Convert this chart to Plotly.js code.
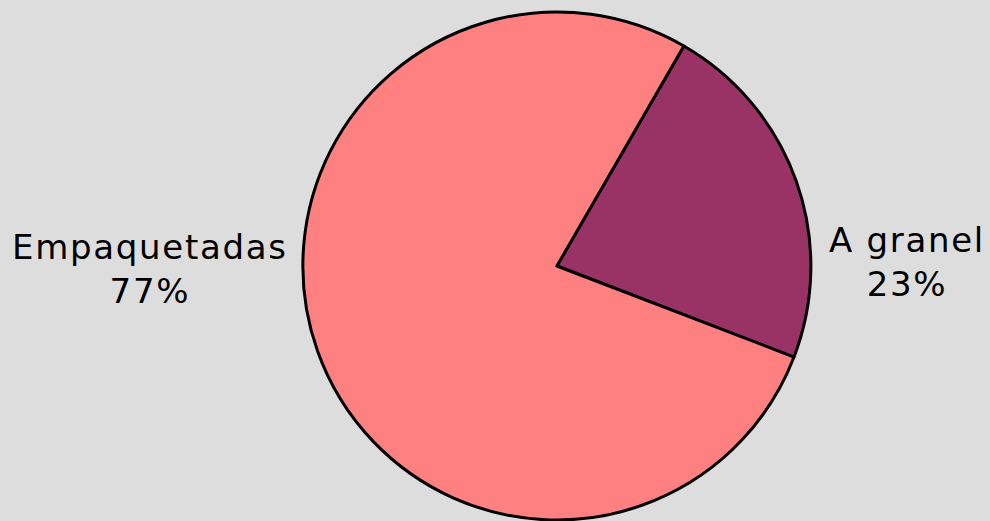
<!DOCTYPE html>
<html>
<head>
<meta charset="utf-8">
<script src="https://cdn.plot.ly/plotly-3.0.1.min.js"></script>
<style>
  html, body { margin: 0; padding: 0; background: #dddddd; }
  #chart { width: 990px; height: 521px; }
  .annotation-text { letter-spacing: 1.7px; }
</style>
</head>
<body>
<div id="chart"></div>
<script>
// slice names and shares
var labels = ["A granel", "Empaquetadas"];
var values = [22.5, 77.5];
var pctText = ["23%", "77%"];
var colors = ["#993366", "#ff8080"];

var trace = {
  type: "pie",
  labels: labels,
  values: values,
  sort: false,
  direction: "clockwise",
  rotation: 30,
  marker: { colors: colors, line: { color: "#000000", width: 3 } },
  textinfo: "none",
  hoverinfo: "label+percent",
  domain: { x: [0.125, 1], y: [0, 1] }
};

// labels sit beside the pie, left and right
var labelPos = [[0.916, 0.508], [0.152, 0.494]];
var annotations = labels.map(function (lab, i) {
  return {
    xref: "paper", yref: "paper",
    x: labelPos[i][0], y: labelPos[i][1],
    xanchor: "center", yanchor: "middle",
    text: lab + "<br>" + pctText[i],
    showarrow: false,
    align: "center",
    font: { family: "DejaVu Sans", size: 34, color: "#000000" }
  };
});

var layout = {
  showlegend: false,
  paper_bgcolor: "#dddddd",
  plot_bgcolor: "#dddddd",
  margin: { l: 0, r: 0, t: 12, b: 1 },
  width: 990,
  height: 521,
  annotations: annotations
};

Plotly.newPlot("chart", [trace], layout, { displayModeBar: false });
</script>
</body>
</html>
